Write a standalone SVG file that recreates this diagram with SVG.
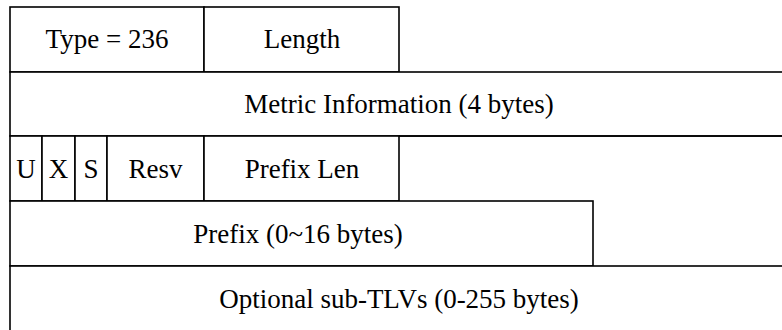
<svg xmlns="http://www.w3.org/2000/svg" width="782" height="330" viewBox="0 0 782 330">
<style>
.f{fill:#fff;stroke:#000;stroke-width:1.6}
.t{font-family:"Liberation Serif","Times New Roman",serif;font-size:27px;fill:#000;text-anchor:middle}
</style>
<rect x="0" y="0" width="782" height="330" fill="#fff"/>
<g id="type"><rect class="f" x="10" y="7" width="194" height="65"/><text class="t" x="107" y="48">Type = 236</text></g>
<g id="length"><rect class="f" x="204" y="7" width="195" height="65"/><text class="t" x="302" y="48">Length</text></g>
<g id="metric"><rect class="f" x="10" y="72" width="800" height="64"/><text class="t" x="399" y="113">Metric Information (4 bytes)</text></g>
<g id="u"><rect class="f" x="10" y="136" width="32" height="65"/><text class="t" x="26" y="178">U</text></g>
<g id="x"><rect class="f" x="42" y="136" width="33" height="65"/><text class="t" x="58.5" y="178">X</text></g>
<g id="s"><rect class="f" x="75" y="136" width="32" height="65"/><text class="t" x="91" y="178">S</text></g>
<g id="resv"><rect class="f" x="107" y="136" width="97" height="65"/><text class="t" x="155.5" y="178">Resv</text></g>
<g id="prefixlen"><rect class="f" x="204" y="136" width="195" height="65"/><text class="t" x="302" y="178">Prefix Len</text></g>
<g id="prefix"><rect class="f" x="10" y="201" width="583" height="65"/><text class="t" x="298" y="243">Prefix (0~16 bytes)</text></g>
<g id="subtlv"><rect class="f" x="10" y="266" width="800" height="80"/><text class="t" x="399" y="308">Optional sub-TLVs (0-255 bytes)</text></g>
<line x1="399" y1="136" x2="800" y2="136" stroke="#000" stroke-width="1.6"/>
<g id="connectors"/>
</svg>
